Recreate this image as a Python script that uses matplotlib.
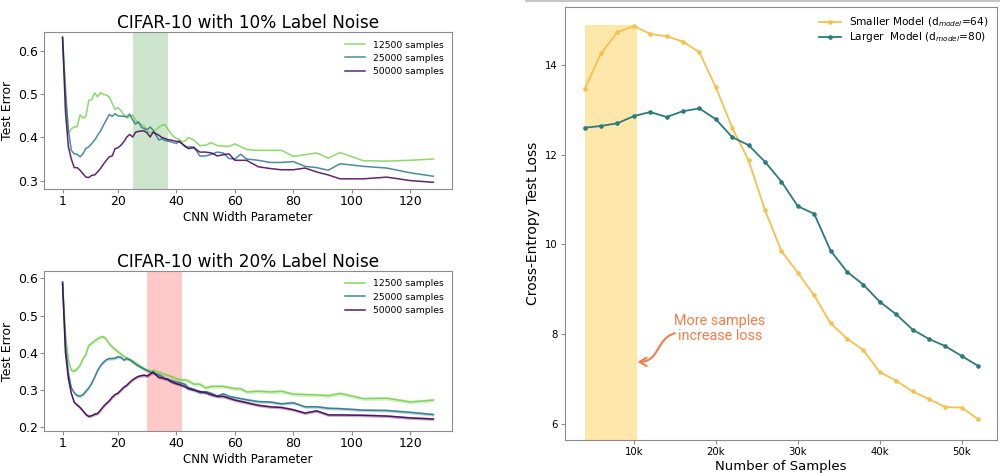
import matplotlib
matplotlib.use("Agg")
import matplotlib.pyplot as plt
from matplotlib.lines import Line2D
from matplotlib.patches import FancyArrowPatch
from matplotlib.path import Path
import numpy as np

# ---------------- Data: 10% label noise ----------------
w10_g = [1, 2, 3, 4, 5, 6, 7, 8, 9, 10, 11, 12, 13, 14, 15, 16, 17, 18, 19, 20, 21, 22, 23, 24, 25,
         26, 27, 28, 29, 30, 31, 32, 33, 34, 35, 36, 37, 38, 39, 40, 41, 42, 43, 44, 46, 48, 50, 52,
         54, 56, 58, 60, 64, 68, 76, 80, 88, 92, 96, 104, 112, 120, 128]
e10_g = [0.632, 0.52, 0.41, 0.42, 0.424, 0.425, 0.452, 0.445, 0.449, 0.486, 0.487, 0.503, 0.494, 0.504,
         0.500, 0.498, 0.494, 0.479, 0.465, 0.469, 0.462, 0.452, 0.445, 0.448, 0.452, 0.440, 0.434, 0.430,
         0.426, 0.415, 0.411, 0.412, 0.418, 0.424, 0.428, 0.430, 0.420, 0.410, 0.402, 0.398, 0.395, 0.390,
         0.392, 0.400, 0.394, 0.381, 0.382, 0.388, 0.381, 0.380, 0.379, 0.385, 0.372, 0.370, 0.370, 0.356,
         0.364, 0.352, 0.365, 0.346, 0.345, 0.347, 0.350]

w10_t = [1, 2, 3, 4, 5, 6, 7, 8, 9, 10, 11, 12, 13, 14, 15, 16, 17, 18, 19, 20, 22, 23, 24, 25, 26,
         27, 28, 29, 30, 31, 32, 33, 34, 35, 36, 38, 40, 41, 43, 44, 46, 48, 50, 52, 54, 56, 58, 60,
         62, 64, 68, 72, 76, 80, 84, 88, 92, 96, 104, 112, 120, 128]
e10_t = [0.632, 0.50, 0.417, 0.370, 0.362, 0.361, 0.355, 0.362, 0.375, 0.378, 0.386, 0.394, 0.405, 0.415,
         0.428, 0.441, 0.453, 0.449, 0.455, 0.450, 0.449, 0.448, 0.454, 0.441, 0.431, 0.436, 0.424, 0.420,
         0.418, 0.424, 0.417, 0.405, 0.394, 0.397, 0.393, 0.390, 0.386, 0.392, 0.378, 0.378, 0.378, 0.357,
         0.357, 0.361, 0.366, 0.364, 0.351, 0.350, 0.361, 0.350, 0.347, 0.342, 0.342, 0.344, 0.333, 0.330,
         0.324, 0.339, 0.333, 0.329, 0.318, 0.310]

w10_p = [1, 2, 3, 4, 5, 6, 7, 8, 9, 10, 11, 12, 13, 14, 15, 16, 17, 18, 19, 20, 21, 22, 23, 24, 25,
         26, 27, 28, 29, 30, 31, 32, 34, 35, 37, 38, 40, 41, 43, 44, 46, 48, 50, 52, 54, 56, 58, 60,
         64, 68, 72, 76, 80, 84, 88, 92, 96, 104, 112, 120, 128]
e10_p = [0.632, 0.46, 0.378, 0.350, 0.330, 0.330, 0.324, 0.316, 0.308, 0.307, 0.312, 0.313, 0.320, 0.328,
         0.338, 0.347, 0.355, 0.357, 0.374, 0.376, 0.382, 0.390, 0.401, 0.407, 0.401, 0.412, 0.414, 0.415,
         0.415, 0.410, 0.401, 0.412, 0.405, 0.400, 0.395, 0.394, 0.391, 0.390, 0.380, 0.374, 0.376, 0.366,
         0.366, 0.364, 0.357, 0.360, 0.362, 0.347, 0.347, 0.332, 0.328, 0.325, 0.325, 0.329, 0.320, 0.313,
         0.304, 0.304, 0.308, 0.300, 0.296]

# ---------------- Data: 20% label noise ----------------
w20_g = [1, 2, 3, 4, 5, 6, 7, 8, 9, 10, 11, 12, 13, 14, 15, 16, 17, 18, 19, 20, 21, 22, 23, 24, 25,
         26, 27, 28, 29, 30, 31, 32, 33, 34, 35, 36, 37, 38, 39, 40, 41, 42, 43, 44, 46, 48, 50, 52,
         54, 56, 60, 62, 64, 68, 72, 76, 80, 84, 88, 92, 96, 104, 112, 120, 128]
e20_g = [0.591, 0.45, 0.38, 0.352, 0.350, 0.356, 0.366, 0.384, 0.395, 0.420, 0.425, 0.432, 0.437, 0.442,
         0.443, 0.436, 0.424, 0.415, 0.409, 0.402, 0.396, 0.390, 0.386, 0.381, 0.378, 0.372, 0.367, 0.361,
         0.357, 0.352, 0.350, 0.352, 0.350, 0.347, 0.344, 0.341, 0.339, 0.336, 0.333, 0.330, 0.327, 0.326,
         0.327, 0.324, 0.315, 0.315, 0.305, 0.309, 0.309, 0.309, 0.303, 0.303, 0.294, 0.296, 0.294, 0.296,
         0.288, 0.287, 0.286, 0.284, 0.290, 0.276, 0.277, 0.267, 0.272]

w20_t = [1, 2, 3, 4, 5, 6, 7, 8, 9, 10, 11, 12, 13, 14, 15, 16, 17, 18, 19, 20, 21, 22, 23, 24, 25,
         26, 27, 28, 29, 30, 31, 32, 33, 34, 35, 36, 37, 38, 39, 40, 41, 42, 43, 44, 46, 48, 50, 52,
         54, 56, 58, 60, 64, 68, 72, 76, 80, 84, 88, 92, 96, 104, 112, 120, 128]
e20_t = [0.591, 0.42, 0.345, 0.305, 0.292, 0.284, 0.283, 0.287, 0.296, 0.305, 0.318, 0.334, 0.352, 0.365,
         0.374, 0.381, 0.384, 0.384, 0.385, 0.389, 0.387, 0.380, 0.384, 0.381, 0.375, 0.369, 0.364, 0.360,
         0.355, 0.352, 0.348, 0.344, 0.343, 0.340, 0.336, 0.330, 0.328, 0.326, 0.323, 0.321, 0.319, 0.317,
         0.314, 0.306, 0.301, 0.292, 0.295, 0.290, 0.283, 0.289, 0.282, 0.279, 0.273, 0.268, 0.267, 0.262,
         0.265, 0.254, 0.254, 0.250, 0.249, 0.245, 0.244, 0.239, 0.233]

w20_p = [1, 2, 3, 4, 5, 6, 7, 8, 9, 10, 11, 12, 13, 14, 15, 16, 17, 18, 19, 20, 21, 22, 23, 24, 25,
         26, 27, 28, 29, 30, 31, 32, 33, 34, 35, 36, 37, 38, 39, 40, 41, 42, 43, 44, 46, 48, 50, 52,
         54, 56, 58, 60, 64, 68, 72, 76, 80, 84, 88, 92, 96, 104, 112, 120, 128]
e20_p = [0.587, 0.40, 0.33, 0.290, 0.266, 0.259, 0.252, 0.243, 0.233, 0.228, 0.230, 0.234, 0.236, 0.245,
         0.255, 0.263, 0.270, 0.280, 0.287, 0.291, 0.299, 0.307, 0.312, 0.320, 0.327, 0.332, 0.336, 0.338,
         0.339, 0.337, 0.342, 0.348, 0.340, 0.333, 0.332, 0.330, 0.328, 0.322, 0.319, 0.316, 0.314, 0.311,
         0.308, 0.303, 0.299, 0.295, 0.292, 0.286, 0.282, 0.282, 0.277, 0.272, 0.265, 0.258, 0.254, 0.252,
         0.246, 0.237, 0.243, 0.232, 0.232, 0.231, 0.229, 0.224, 0.221]
band20 = [0.005, 0.004, 0.004]   # half-width of the shaded error bands (12500, 25000, 50000)

sample_labels = ["12500 samples", "25000 samples", "50000 samples"]
viridis_cols = ["#7ad151", "#2a788e", "#440154"]

# ---------------- Data: right panel ----------------
n_samples = [4000, 6000, 8000, 10000, 12000, 14000, 16000, 18000, 20000, 22000, 24000, 26000, 28000,
             30000, 32000, 34000, 36000, 38000, 40000, 42000, 44000, 46000, 48000, 50000, 52000]
loss_small = [13.46, 14.26, 14.73, 14.87, 14.69, 14.64, 14.52, 14.28, 13.50, 12.60, 11.87, 10.76, 9.85,
              9.37, 8.86, 8.24, 7.90, 7.64, 7.15, 6.96, 6.72, 6.55, 6.37, 6.36, 6.10]
loss_large = [12.60, 12.64, 12.70, 12.86, 12.95, 12.84, 12.97, 13.03, 12.79, 12.39, 12.21, 11.84, 11.40,
              10.85, 10.68, 9.86, 9.39, 9.10, 8.72, 8.44, 8.10, 7.89, 7.73, 7.51, 7.29]
model_labels = [r"Smaller Model (d$_{model}$=64)", r"Larger  Model (d$_{model}$=80)"]
model_cols = ["#f2c14e", "#2b7b7b"]
x_ticks_right = [10000, 20000, 30000, 40000, 50000]
x_ticklabels_right = ["10k", "20k", "30k", "40k", "50k"]

plt.rcParams['font.family'] = ['DejaVu Sans']

fig = plt.figure(figsize=(10, 4.73), dpi=100)

spine_col = "#8c8c8c"

def style_left(ax):
    for s in ax.spines.values():
        s.set_color(spine_col)
    ax.tick_params(labelsize=9, colors="black", length=3, pad=1.5)
    ax.tick_params(axis='both', color=spine_col)
    ax.set_xticks([1, 20, 40, 60, 80, 100, 120])
    ax.set_ylabel("Test Error", fontsize=9, labelpad=3)
    ax.set_xlabel("CNN Width Parameter", fontsize=8.5, labelpad=2)

# Top-left
ax1 = fig.add_axes([0.044, 0.600, 0.408, 0.332])
ax1.axvspan(25, 37, color="#cce5cc", lw=0)
for w, e, c, lab in zip([w10_g, w10_t, w10_p], [e10_g, e10_t, e10_p], viridis_cols, sample_labels):
    ax1.plot(w, e, color=c, lw=1.1, alpha=0.85, label=lab)
ax1.set_ylim(0.280, 0.644)
ax1.set_yticks([0.3, 0.4, 0.5, 0.6])
ax1.set_title("CIFAR-10 with 10% Label Noise", fontsize=12.2, pad=3)
style_left(ax1)
ax1.legend(loc="upper right", frameon=False, fontsize=6.7, handlelength=2.2, labelspacing=0.45)

# Bottom-left
ax2 = fig.add_axes([0.044, 0.089, 0.408, 0.338])
ax2.axvspan(30, 42, color="#ffc9c9", lw=0)
for w, e, c, lab, b in zip([w20_g, w20_t, w20_p], [e20_g, e20_t, e20_p], viridis_cols, sample_labels, band20):
    e = np.array(e)
    ax2.fill_between(w, e - b, e + b, color=c, alpha=0.3, lw=0)
    ax2.plot(w, e, color=c, lw=1.1, alpha=0.9, label=lab)
ax2.set_ylim(0.189, 0.620)
ax2.set_yticks([0.2, 0.3, 0.4, 0.5, 0.6])
ax2.set_title("CIFAR-10 with 20% Label Noise", fontsize=12.2, pad=3)
style_left(ax2)
ax2.legend(loc="upper right", frameon=False, fontsize=6.7, handlelength=2.2, labelspacing=0.45)

# Right
ax3 = fig.add_axes([0.565, 0.070, 0.432, 0.915])
ax3.set_ylim(5.64, 15.29)
ax3.set_xlim(1600, 54300)
ymax_frac = (14.9 - 5.64) / (15.29 - 5.64)
ax3.axvspan(4000, 10400, ymin=0, ymax=ymax_frac, color="#fde7ab", lw=0)
for y, c, lab in zip([loss_small, loss_large], model_cols, model_labels):
    ax3.plot(n_samples, y, color=c, lw=1.3, marker="o", ms=2.3, label=lab)
ax3.set_xticks(x_ticks_right)
ax3.set_xticklabels(x_ticklabels_right)
ax3.set_yticks([6, 8, 10, 12, 14])
ax3.tick_params(labelsize=7.3, length=3, pad=2, color=spine_col)
for s in ax3.spines.values():
    s.set_color(spine_col)
ax3.set_ylabel("Cross-Entropy Test Loss", fontsize=10, labelpad=4)
ax3.set_xlabel("Number of Samples", fontsize=9.5, labelpad=2)
ax3.legend(loc="upper right", frameon=False, fontsize=7.6, handlelength=2.0, labelspacing=0.1,
           borderaxespad=0.4)

ax3.text(20500, 8.13, "More samples\nincrease loss", color="#f47c48", fontsize=10.4,
         family=["Roboto", "DejaVu Sans"], ha="center", va="center", linespacing=1.1)
arrow_path = Path([(15000, 8.02), (12600, 7.88), (13200, 7.38), (10450, 7.38)],
                  [Path.MOVETO, Path.CURVE4, Path.CURVE4, Path.CURVE4])
arrow = FancyArrowPatch(path=arrow_path, arrowstyle="->,head_length=5,head_width=3",
                        color="#f47c48", lw=1.5, mutation_scale=1, transform=ax3.transData)
ax3.add_patch(arrow)

fig.add_artist(Line2D([0.526, 1.0], [0.997, 0.997], color="#bbbbbb", lw=1.2,
                      transform=fig.transFigure))

fig.savefig("out.png", dpi=100)
